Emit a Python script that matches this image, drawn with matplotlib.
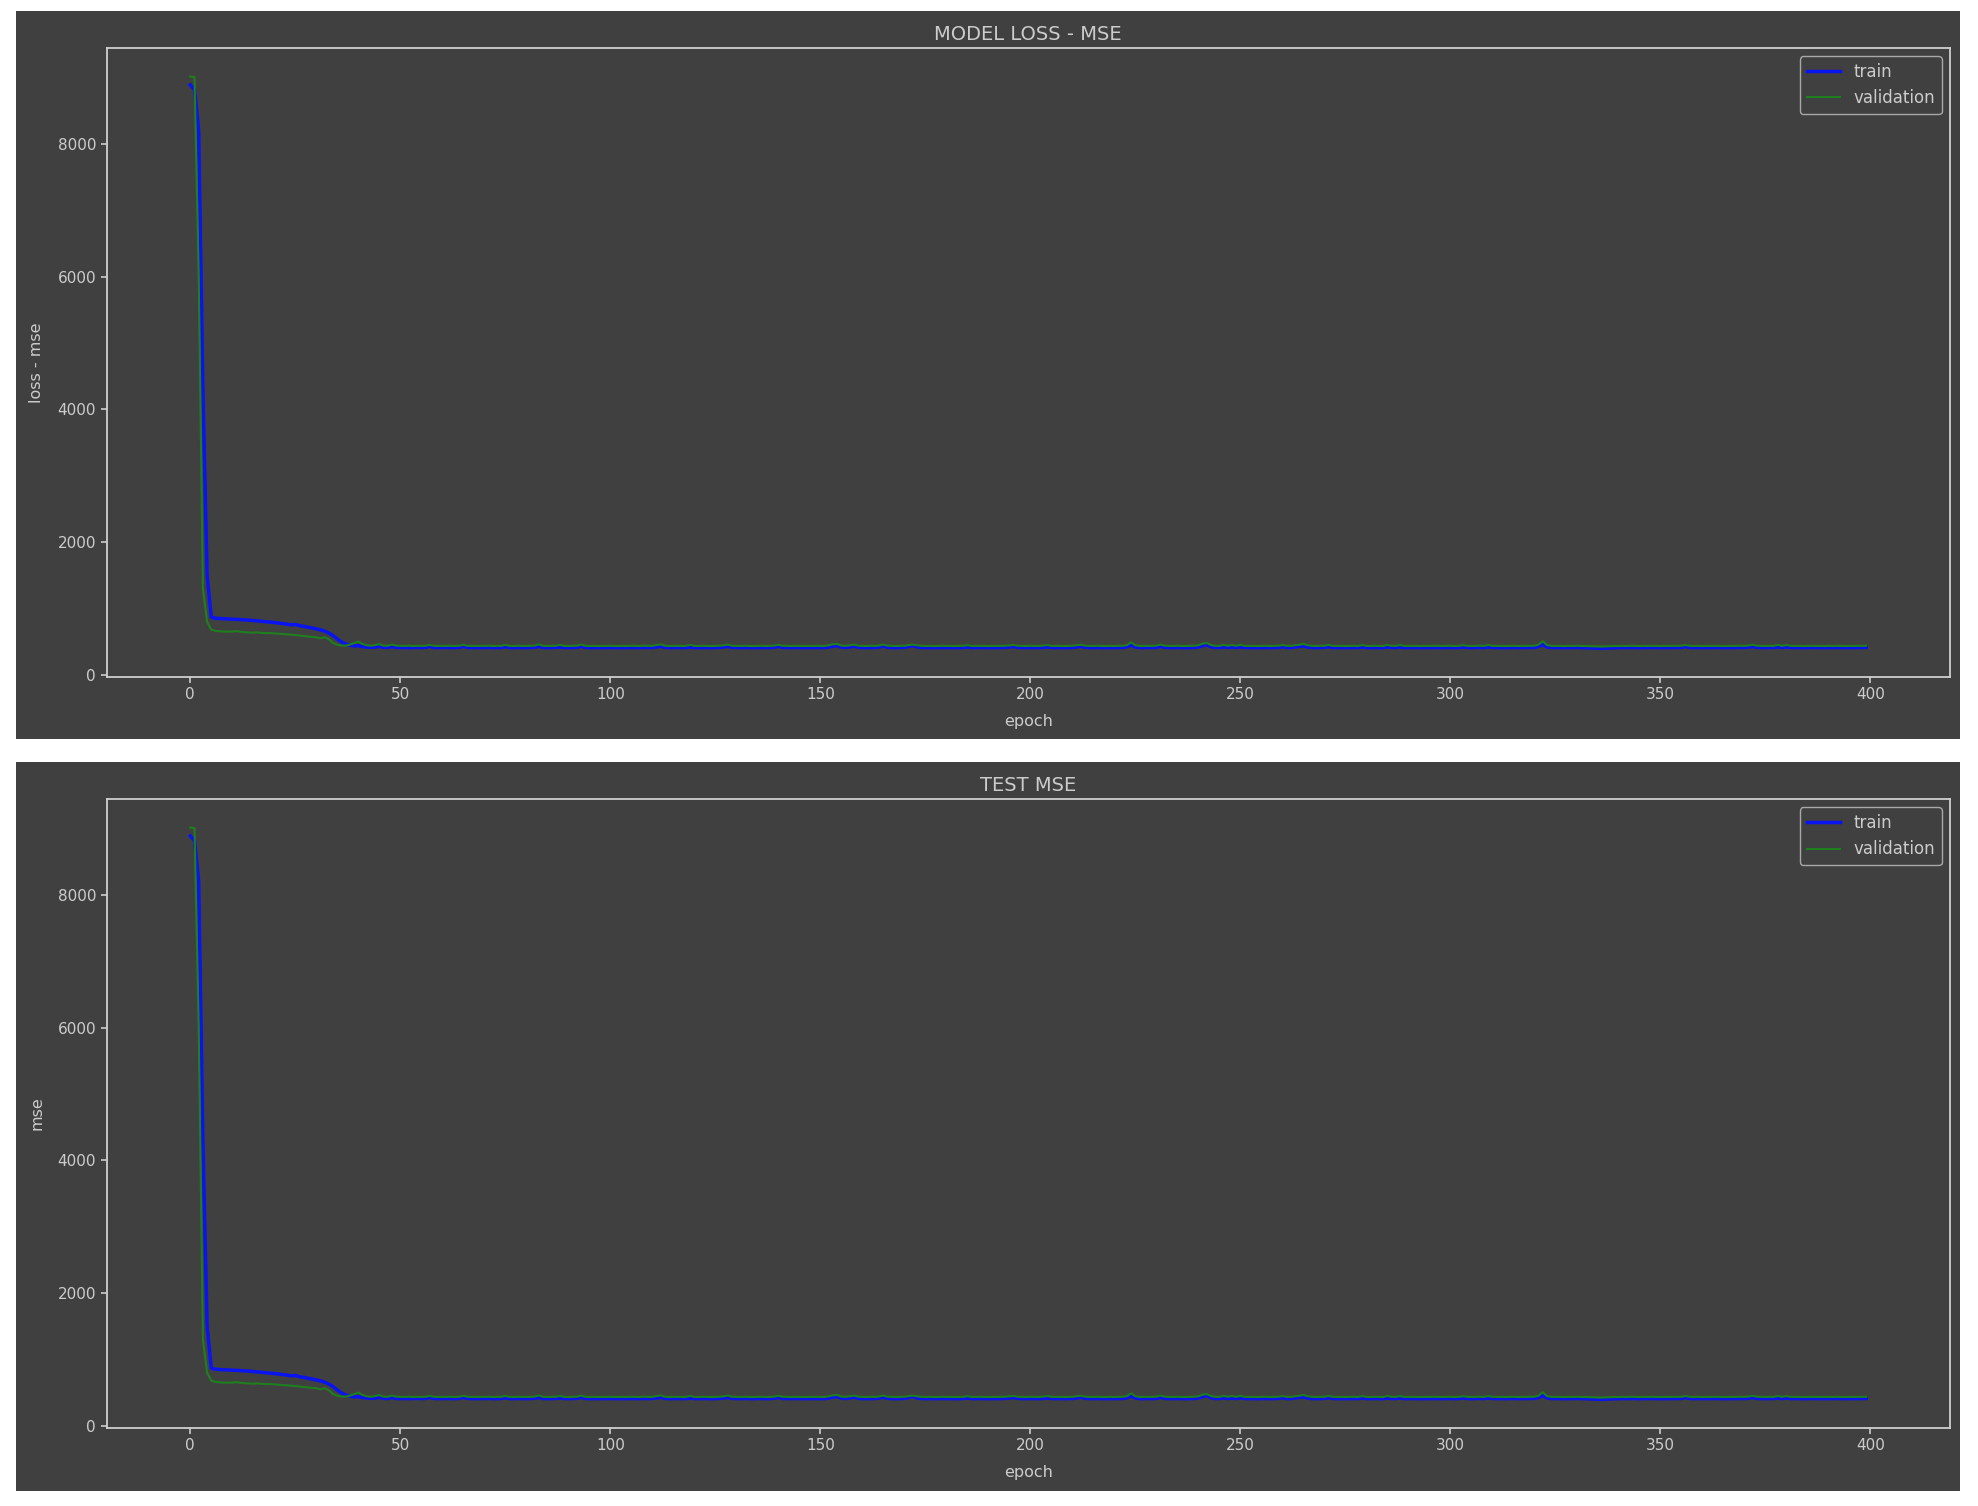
import matplotlib
matplotlib.use("Agg")
import matplotlib.pyplot as plt
from matplotlib.patches import Rectangle

# ---------------- data ----------------
epochs = list(range(400))

train_loss = [
    8890, 8820, 8200, 4300, 1500, 870, 852, 848, 845, 842,
    838, 835, 832, 828, 824, 818, 812, 806, 800, 795,
    788, 780, 772, 764, 752, 760, 740, 730, 718, 705,
    692, 678, 658, 630, 590, 540, 495, 465, 447, 435,
    440, 425, 418, 414, 416, 430, 413, 411, 425, 412,
    410, 412, 409, 411, 413, 410, 412, 428, 411, 409,
    410, 412, 410, 409, 413, 428, 412, 410, 409, 411,
    410, 412, 409, 410, 411, 422, 410, 409, 411, 410,
    409, 412, 414, 428, 411, 409, 410, 412, 418, 410,
    409, 411, 412, 430, 411, 409, 410, 408, 410, 409,
    411, 410, 408, 410, 409, 411, 410, 409, 412, 410,
    411, 418, 430, 412, 409, 410, 411, 409, 410, 416,
    410, 409, 411, 410, 408, 410, 412, 418, 428, 412,
    410, 409, 411, 410, 408, 410, 411, 409, 410, 414,
    428, 412, 410, 409, 411, 410, 408, 410, 409, 411,
    410, 409, 418, 432, 440, 415, 411, 418, 432, 414,
    410, 409, 411, 410, 418, 432, 413, 410, 409, 411,
    412, 425, 440, 420, 411, 409, 410, 408, 410, 411,
    409, 410, 408, 410, 411, 416, 410, 409, 411, 410,
    408, 410, 409, 411, 412, 418, 425, 412, 410, 409,
    411, 410, 409, 412, 418, 411, 409, 410, 408, 410,
    411, 418, 430, 414, 410, 409, 411, 410, 408, 410,
    409, 411, 412, 420, 450, 418, 410, 409, 411, 410,
    412, 428, 413, 410, 409, 411, 410, 408, 410, 412,
    418, 440, 455, 422, 411, 410, 420, 411, 418, 410,
    420, 411, 409, 410, 408, 410, 411, 409, 410, 412,
    422, 411, 410, 418, 425, 435, 418, 411, 409, 410,
    412, 422, 411, 409, 410, 408, 410, 411, 409, 418,
    410, 409, 411, 410, 408, 418, 411, 410, 417, 410,
    409, 411, 410, 408, 410, 409, 411, 410, 409, 410,
    411, 409, 410, 418, 411, 409, 410, 412, 410, 418,
    411, 409, 410, 408, 410, 411, 409, 410, 412, 411,
    412, 425, 458, 420, 411, 409, 410, 408, 410, 409,
    411, 410, 408, 405, 402, 400, 398, 401, 404, 406,
    408, 410, 409, 411, 410, 408, 410, 409, 411, 410,
    408, 410, 409, 411, 410, 412, 425, 411, 409, 410,
    408, 410, 409, 411, 410, 408, 410, 409, 411, 412,
    410, 416, 425, 412, 410, 409, 411, 410, 418, 410,
    418, 411, 409, 410, 408, 410, 411, 409, 410, 408,
    410, 409, 411, 410, 408, 410, 409, 411, 410, 412,
]

val_loss = [
    9015, 9008, 6000, 1300, 800, 680, 662, 656, 652, 650,
    652, 658, 648, 642, 638, 635, 640, 632, 628, 630,
    624, 620, 615, 610, 604, 600, 592, 585, 578, 572,
    566, 550, 568, 535, 480, 452, 442, 440, 455, 478,
    500, 465, 445, 438, 448, 462, 440, 438, 455, 440,
    437, 436, 438, 435, 437, 436, 438, 450, 437, 435,
    436, 438, 437, 435, 438, 452, 437, 436, 435, 437,
    436, 438, 435, 436, 437, 450, 436, 435, 437, 436,
    435, 438, 440, 458, 437, 435, 436, 438, 450, 436,
    435, 437, 438, 455, 437, 435, 436, 434, 436, 435,
    437, 436, 434, 436, 435, 437, 436, 435, 438, 436,
    437, 448, 458, 438, 435, 436, 437, 435, 436, 450,
    436, 435, 437, 436, 434, 436, 438, 445, 455, 438,
    436, 435, 437, 436, 434, 436, 437, 435, 436, 440,
    452, 438, 436, 435, 437, 436, 434, 436, 435, 437,
    436, 435, 445, 460, 465, 440, 437, 445, 455, 440,
    436, 435, 437, 436, 442, 456, 438, 436, 435, 437,
    438, 448, 455, 445, 437, 435, 436, 434, 436, 437,
    435, 436, 434, 436, 437, 446, 436, 435, 437, 436,
    434, 436, 435, 437, 438, 444, 450, 438, 436, 435,
    437, 436, 435, 440, 448, 437, 435, 436, 434, 436,
    437, 446, 452, 440, 436, 435, 437, 436, 434, 436,
    435, 437, 438, 448, 490, 445, 436, 435, 437, 436,
    440, 455, 439, 436, 435, 437, 436, 434, 436, 438,
    445, 470, 478, 450, 437, 436, 452, 437, 450, 436,
    452, 437, 435, 436, 434, 436, 437, 435, 436, 438,
    448, 437, 436, 445, 452, 465, 446, 437, 435, 436,
    438, 450, 437, 435, 436, 434, 436, 437, 435, 448,
    436, 435, 437, 436, 434, 450, 437, 436, 448, 436,
    435, 437, 436, 434, 436, 435, 437, 436, 435, 436,
    437, 435, 436, 446, 437, 435, 436, 438, 436, 448,
    437, 435, 436, 434, 436, 437, 435, 436, 438, 437,
    438, 455, 505, 448, 437, 435, 436, 434, 436, 435,
    437, 436, 434, 432, 430, 428, 426, 429, 432, 434,
    434, 436, 435, 437, 436, 434, 436, 435, 437, 436,
    434, 436, 435, 437, 436, 438, 448, 437, 435, 436,
    434, 436, 435, 437, 436, 434, 436, 435, 437, 438,
    436, 442, 452, 438, 436, 435, 437, 436, 450, 436,
    448, 437, 435, 436, 434, 436, 437, 435, 436, 434,
    436, 435, 437, 436, 434, 436, 435, 437, 436, 438,
]

# the metric "mse" equals the loss here
train_mse = train_loss
val_mse = val_loss

legend_labels = ["train", "validation"]
titles = ["MODEL LOSS - MSE", "TEST MSE"]
ylabels = ["loss - mse", "mse"]
xlabel = "epoch"
xticks = [0, 50, 100, 150, 200, 250, 300, 350, 400]
yticks = [0, 2000, 4000, 6000, 8000]

# ---------------- style ----------------
BG = "#404040"
TXT = "#cccccc"
SPINE = "#d0d0d0"
BLUE = "#0a14f0"
GREEN = "#1f7f1f"

W, H = 1978, 1506
fig = plt.figure(figsize=(W / 100, H / 100), dpi=100, facecolor="white")

def fx(px):
    return px / W

def fy(py):
    return 1 - py / H

# dark panels (two stacked figure backgrounds)
panels = [(16, 11, 1960, 739), (16, 762, 1960, 1491)]
for (x0, y0, x1, y1) in panels:
    fig.patches.append(Rectangle((fx(x0), fy(y1)), fx(x1) - fx(x0), fy(y0) - fy(y1),
                                 transform=fig.transFigure, facecolor=BG,
                                 edgecolor="none", zorder=-10))

axes_boxes = [(106.5, 48, 1950, 677), (106.5, 799, 1950, 1428)]
series = [(train_loss, val_loss), (train_mse, val_mse)]

for i, (x0, y0, x1, y1) in enumerate(axes_boxes):
    ax = fig.add_axes([fx(x0), fy(y1), fx(x1) - fx(x0), fy(y0) - fy(y1)])
    ax.set_zorder(5)
    ax.set_facecolor(BG)
    tr, va = series[i]
    ax.plot(epochs, tr, color=BLUE, lw=2.5, label=legend_labels[0])
    ax.plot(epochs, va, color=GREEN, lw=1.5, label=legend_labels[1])
    ax.set_title(titles[i], color=TXT, fontsize=14)
    ax.set_xlabel(xlabel, color=TXT, fontsize=11.5, labelpad=8)
    ax.set_ylabel(ylabels[i], color=TXT, fontsize=11.5, labelpad=9.5)
    ax.set_xticks(xticks)
    ax.set_yticks(yticks)
    ax.tick_params(colors=TXT, labelsize=11, width=1.2, length=4)
    for s in ax.spines.values():
        s.set_color(SPINE)
        s.set_linewidth(1.3)
    leg = ax.legend(loc="upper right", fontsize=12, facecolor=BG,
                    edgecolor="#a8a8a8", framealpha=1.0, handlelength=2.0)
    for t in leg.get_texts():
        t.set_color(TXT)

fig.savefig("out.png", dpi=100, facecolor="white")
